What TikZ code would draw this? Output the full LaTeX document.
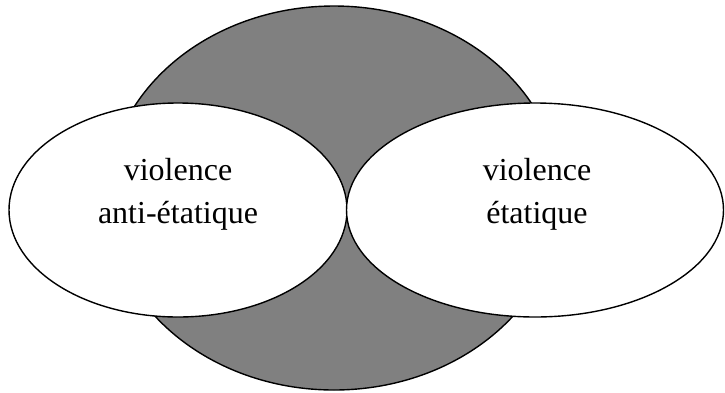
\documentclass[tikz,border=0pt]{standalone}
\usepackage{fontspec}
\setmainfont{Liberation Serif}
\usetikzlibrary{shapes.geometric}
\definecolor{midgray}{HTML}{808080}
\tikzset{
  oval/.style={ellipse, draw=black, line width=1.4pt, inner sep=0pt},
  bigoval/.style={oval, fill=midgray},
  whiteoval/.style={oval, fill=white},
  lbl/.style={anchor=base, inner sep=0pt, font=\fontsize{32}{38}\selectfont}
}
\begin{document}
\begin{tikzpicture}[x=1pt,y=1pt]
\useasboundingbox (0,0) rectangle (725,-392);
\node[bigoval, minimum width=454pt, minimum height=384pt] (G) at (334,-198) {};
\node[whiteoval, minimum width=338pt, minimum height=214pt] (L) at (178,-210) {};
\node[whiteoval, minimum width=377pt, minimum height=214pt] (R) at (535,-210) {};
\node[lbl] (L1) at (178,-180) {violence};
\node[lbl] (L2) at (178,-223) {anti-étatique};
\node[lbl] (R1) at (537,-180) {violence};
\node[lbl] (R2) at (537,-223) {étatique};
\end{tikzpicture}
\end{document}
